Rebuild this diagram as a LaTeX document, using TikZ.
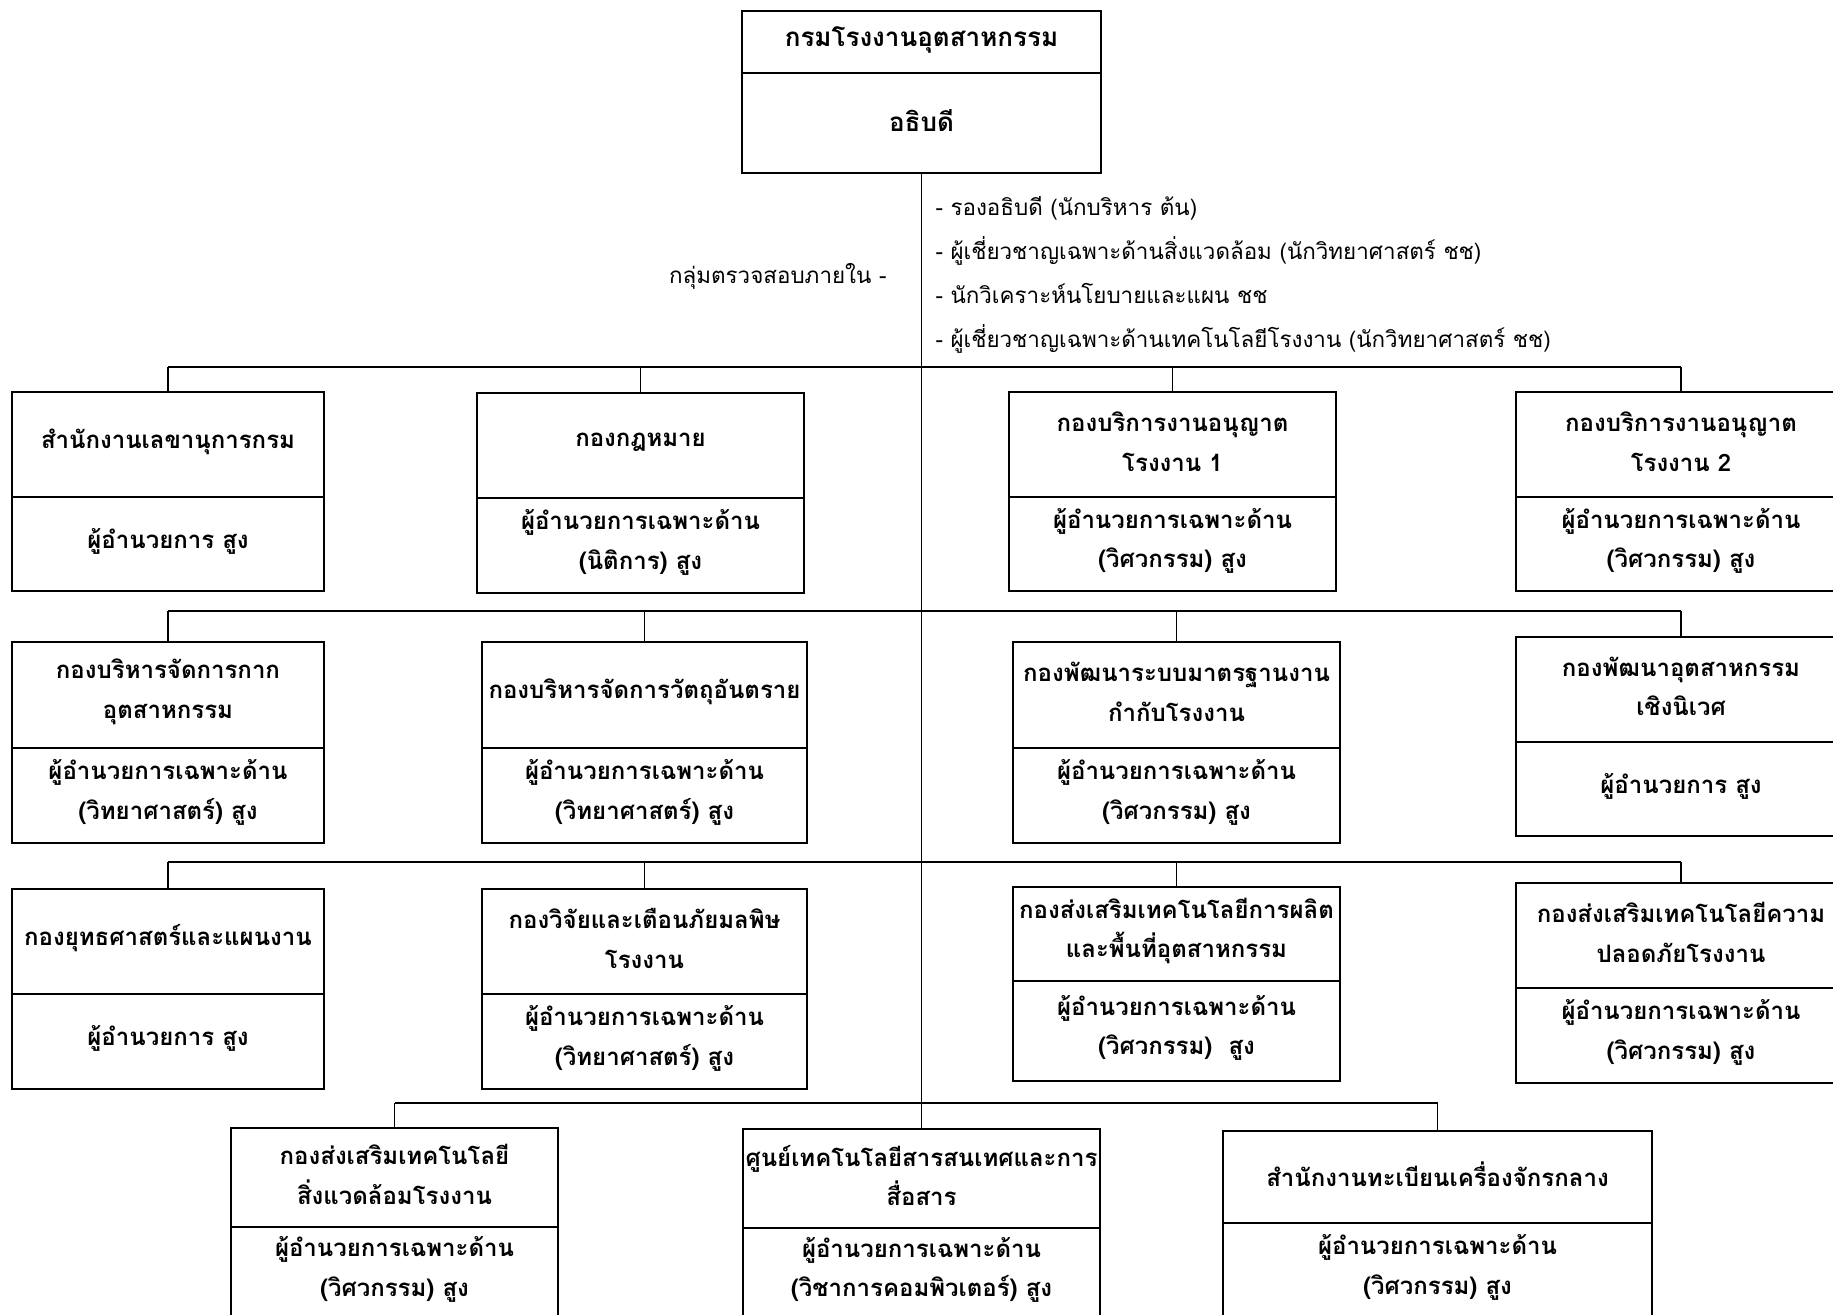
\documentclass[tikz,border=0pt]{standalone}
\usepackage{fontspec}
\setmainfont[Script=Thai]{Loma}

% one unit: frame, divider and the two texts
\newcommand{\orgunit}[8]{%
  \node[frame, minimum width={#3-#2}, minimum height={#6-#4}] (#1) at ({(#2+#3)/2},{(#4+#6)/2}) {};
  \draw[divider] (#2,#5) -- (#3,#5);
  \node[unittext] (#1-t) at ({(#2+#3)/2},{(#4+#5)/2}) {#7};
  \node[unittext] (#1-h) at ({(#2+#3)/2},{(#5+#6)/2}) {#8};
}

\begin{document}
\begin{tikzpicture}[x=1pt,y=-1pt,
  frame/.style={draw, line width=2.2pt, inner sep=0pt},
  divider/.style={line width=2pt},
  unittext/.style={align=center, yshift=3pt, font=\fontsize{24}{39.5}\selectfont\bfseries},
  sidetext/.style={align=left, font=\fontsize{22.4}{44}\selectfont},
  bus/.style={line width=2.2pt},
  branch/.style={line width=1.4pt},
  trunk/.style={line width=1.8pt}]
\useasboundingbox (0,0) rectangle (1833,1314);
\clip (0,0) rectangle (1833,1314);

% head of department
\node[frame, minimum width=359, minimum height=162] (dg) at (921.5,92) {};
\draw[divider] (742,73) -- (1101,73);
\node[unittext, yshift=-1pt, font=\fontsize{26}{39}\selectfont\bfseries] (dg-t) at (921.5,42) {กรมโรงงานอุตสาหกรรม};
\node[unittext, font=\fontsize{26}{39}\selectfont\bfseries] (dg-h) at (921.5,123) {อธิบดี};

\node[sidetext, anchor=east] (audit) at (890,276) {กลุ่มตรวจสอบภายใน -};
\node[sidetext, anchor=west] (staff) at (932,275) {- รองอธิบดี (นักบริหาร ต้น)\\
- ผู้เชี่ยวชาญเฉพาะด้านสิ่งแวดล้อม (นักวิทยาศาสตร์ ชช)\\
- นักวิเคราะห์นโยบายและแผน ชช\\
- ผู้เชี่ยวชาญเฉพาะด้านเทคโนโลยีโรงงาน (นักวิทยาศาสตร์ ชช)};

% row 1
\orgunit{r1a}{12}{324}{392}{497}{591}{สำนักงานเลขานุการกรม}{ผู้อำนวยการ สูง}
\orgunit{r1b}{477}{804}{393}{498}{593}{กองกฎหมาย}{ผู้อำนวยการเฉพาะด้าน\\(นิติการ) สูง}
\orgunit{r1c}{1009}{1336}{392}{497}{591}{กองบริการงานอนุญาต\\โรงงาน 1}{ผู้อำนวยการเฉพาะด้าน\\(วิศวกรรม) สูง}
\orgunit{r1d}{1516}{1846}{392}{497}{591}{กองบริการงานอนุญาต\\โรงงาน 2}{ผู้อำนวยการเฉพาะด้าน\\(วิศวกรรม) สูง}

% row 2
\orgunit{r2a}{12}{324}{642}{748}{843}{กองบริหารจัดการกาก\\อุตสาหกรรม}{ผู้อำนวยการเฉพาะด้าน\\(วิทยาศาสตร์) สูง}
\orgunit{r2b}{482}{807}{642}{748}{843}{กองบริหารจัดการวัตถุอันตราย}{ผู้อำนวยการเฉพาะด้าน\\(วิทยาศาสตร์) สูง}
\orgunit{r2c}{1013}{1340}{642}{748}{843}{กองพัฒนาระบบมาตรฐานงาน\\กำกับโรงงาน}{ผู้อำนวยการเฉพาะด้าน\\(วิศวกรรม) สูง}
\orgunit{r2d}{1516}{1846}{637}{742}{836}{กองพัฒนาอุตสาหกรรม\\เชิงนิเวศ}{ผู้อำนวยการ สูง}

% row 3
\orgunit{r3a}{12}{324}{889}{994}{1089}{กองยุทธศาสตร์และแผนงาน}{ผู้อำนวยการ สูง}
\orgunit{r3b}{482}{807}{889}{994}{1089}{กองวิจัยและเตือนภัยมลพิษ\\โรงงาน}{ผู้อำนวยการเฉพาะด้าน\\(วิทยาศาสตร์) สูง}
\orgunit{r3c}{1013}{1340}{887}{981}{1081}{กองส่งเสริมเทคโนโลยีการผลิต\\และพื้นที่อุตสาหกรรม}{ผู้อำนวยการเฉพาะด้าน\\(วิศวกรรม)\ \ สูง}
\orgunit{r3d}{1516}{1846}{883}{988}{1083}{กองส่งเสริมเทคโนโลยีความ\\ปลอดภัยโรงงาน}{ผู้อำนวยการเฉพาะด้าน\\(วิศวกรรม) สูง}

% row 4
\orgunit{r4a}{231}{558}{1128}{1227}{1318}{กองส่งเสริมเทคโนโลยี\\สิ่งแวดล้อมโรงงาน}{ผู้อำนวยการเฉพาะด้าน\\(วิศวกรรม) สูง}
\orgunit{r4b}{743}{1100}{1129}{1228}{1318}{ศูนย์เทคโนโลยีสารสนเทศและการ\\สื่อสาร}{ผู้อำนวยการเฉพาะด้าน\\(วิชาการคอมพิวเตอร์) สูง}
\orgunit{r4c}{1223}{1652}{1131}{1223}{1318}{สำนักงานทะเบียนเครื่องจักรกลาง}{ผู้อำนวยการเฉพาะด้าน\\(วิศวกรรม) สูง}

% connectors
\coordinate (bar1) at (0,367);
\coordinate (bar2) at (0,611);
\coordinate (bar3) at (0,862);
\coordinate (bar4) at (0,1103);

\draw[trunk] (dg.south) -- (r4b.north);

\draw[bus] (r1a.north |- bar1) -- (r1d.north |- bar1);
\foreach \u in {r1a,r1b,r1c,r1d}
  \draw[branch] (\u.north) -- (\u.north |- bar1);

\draw[bus] (r2a.north |- bar2) -- (r2d.north |- bar2);
\foreach \u in {r2a,r2b,r2c,r2d}
  \draw[branch] (\u.north) -- (\u.north |- bar2);

\draw[bus] (r3a.north |- bar3) -- (r3d.north |- bar3);
\foreach \u in {r3a,r3b,r3c,r3d}
  \draw[branch] (\u.north) -- (\u.north |- bar3);

\draw[bus] (r4a.north |- bar4) -- (r4c.north |- bar4);
\foreach \u in {r4a,r4c}
  \draw[branch] (\u.north) -- (\u.north |- bar4);
\end{tikzpicture}
\end{document}
